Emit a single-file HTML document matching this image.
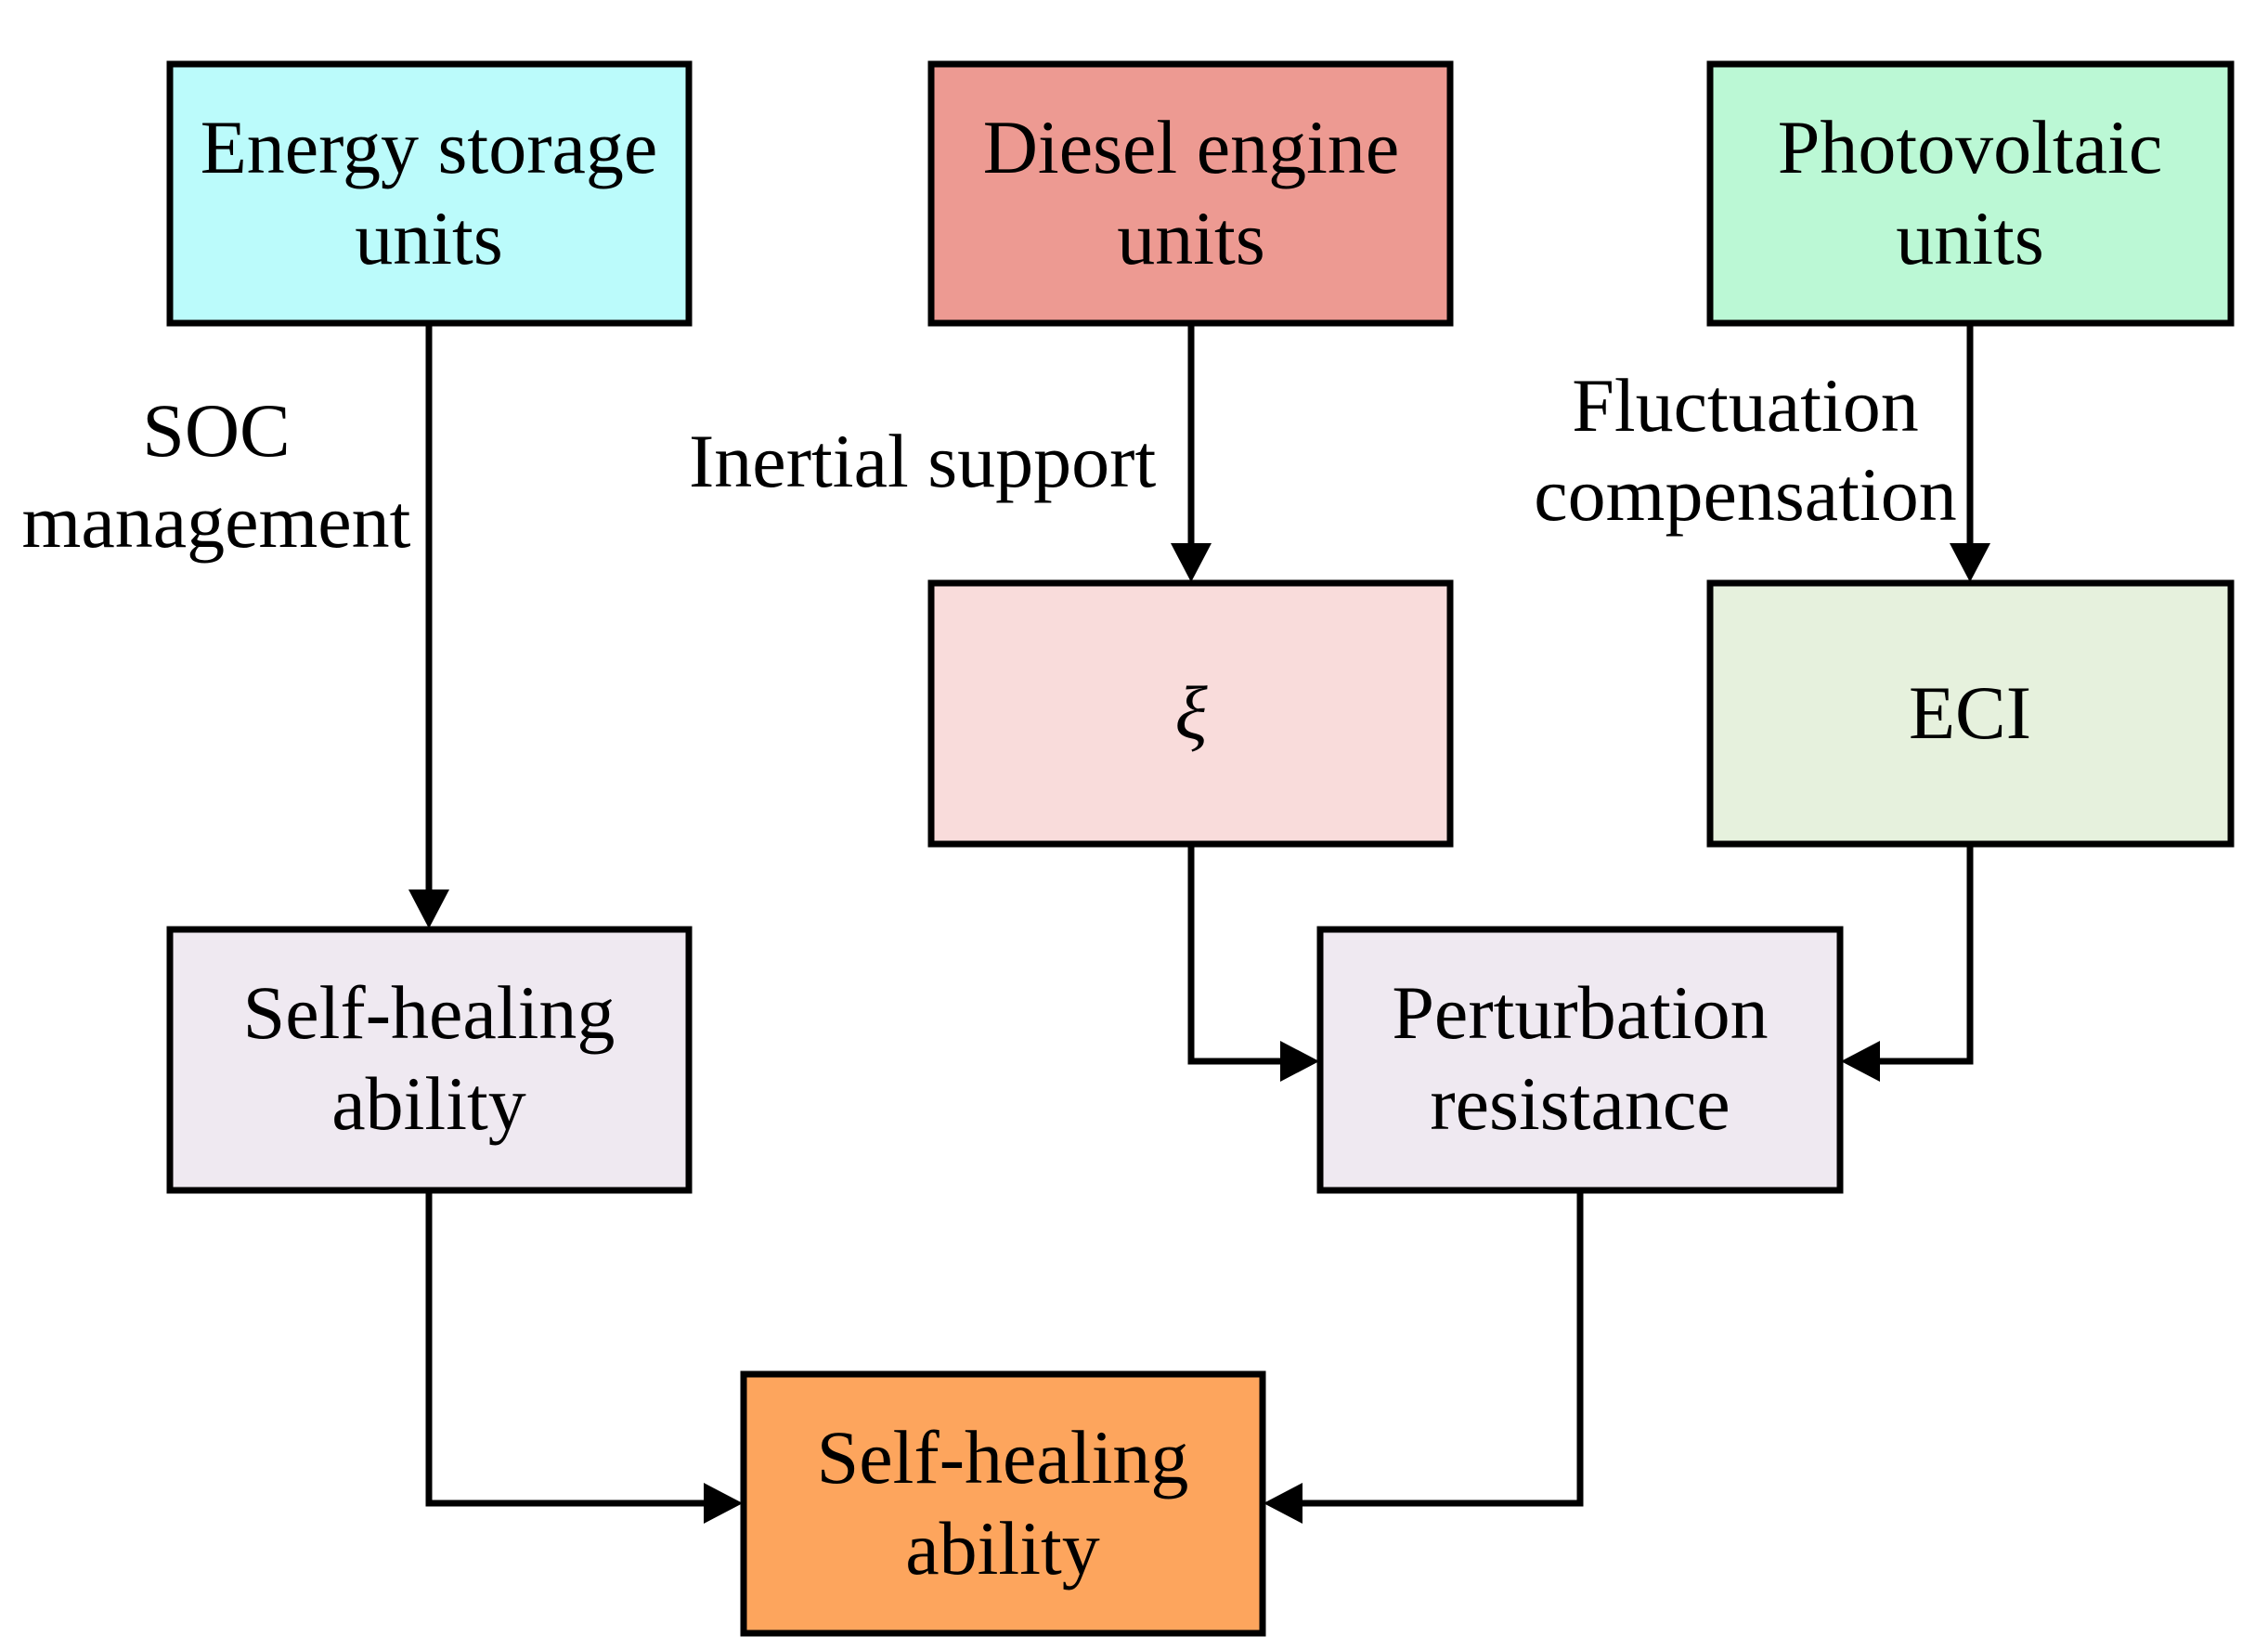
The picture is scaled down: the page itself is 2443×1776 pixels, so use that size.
<!DOCTYPE html>
<html><head><meta charset="utf-8"><style>html,body{margin:0;padding:0;background:#fff}svg{display:block}</style></head>
<body>
<svg width="2443" height="1776" viewBox="0 0 2443 1776" xmlns="http://www.w3.org/2000/svg" font-family="'Liberation Serif', serif" font-size="82" fill="#000">
<g stroke="#000" stroke-width="7">
<rect x="183" y="69" width="559" height="279" fill="#bbfbfb"/>
<rect x="1003" y="69" width="559" height="279" fill="#ed9a92"/>
<rect x="1842" y="69" width="561" height="279" fill="#bbf8d5"/>
<rect x="1003" y="628" width="559" height="281" fill="#f9dcdb"/>
<rect x="1842" y="628" width="561" height="281" fill="#e6f1dd"/>
<rect x="183" y="1001" width="559" height="281" fill="#efe9f1"/>
<rect x="1422" y="1001" width="560" height="281" fill="#efe9f1"/>
<rect x="801" y="1480" width="559" height="279" fill="#fda55d"/>
<g fill="none">
<path d="M462 348 V965"/>
<path d="M1283 348 V592"/>
<path d="M2122 348 V592"/>
<path d="M1283 909 V1143 H1384"/>
<path d="M2122 909 V1143 H2020"/>
<path d="M462 1282 V1619 H763"/>
<path d="M1702 1282 V1619 H1398"/>
</g>
</g>
<g stroke="none">
<polygon points="440,958 484,958 462,1000"/>
<polygon points="1261,585 1305,585 1283,627"/>
<polygon points="2100,585 2144,585 2122,627"/>
<polygon points="1379,1121 1379,1165 1421,1143"/>
<polygon points="2025,1121 2025,1165 1983,1143"/>
<polygon points="758,1597 758,1641 800,1619"/>
<polygon points="1403,1597 1403,1641 1361,1619"/>
</g>
<g text-anchor="middle">
<text x="462" y="186">Energy storage</text><text x="462" y="284">units</text>
<text x="1283" y="186">Diesel engine</text><text x="1283" y="284">units</text>
<text x="2122" y="186">Photovoltaic</text><text x="2122" y="284">units</text>
<text x="1283" y="795" font-style="italic">ξ</text>
<text x="2122" y="795">ECI</text>
<text x="462" y="1118">Self-healing</text><text x="462" y="1216">ability</text>
<text x="1702" y="1118">Perturbation</text><text x="1702" y="1216">resistance</text>
<text x="1080" y="1597">Self-healing</text><text x="1080" y="1695">ability</text>
<text x="233" y="491">SOC</text><text x="233" y="589">management</text>
<text x="1880" y="464">Fluctuation</text><text x="1880" y="560">compensation</text>
</g>
<text x="742" y="524">Inertial support</text>
</svg>
</body></html>
